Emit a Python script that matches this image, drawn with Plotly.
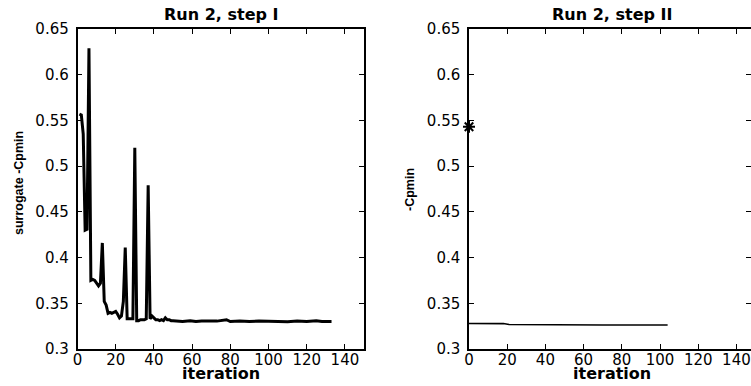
import plotly.graph_objects as go

# ---- data ----
iter_step1 = list(range(1, 51)) + [52, 55, 59, 62, 65, 70, 73, 78, 80, 85, 90, 95,
                                   100, 105, 110, 115, 120, 125, 128, 133]
surrogate_cpmin = [0.557, 0.556, 0.535, 0.430, 0.431, 0.629, 0.375, 0.376, 0.375, 0.372,
                   0.369, 0.372, 0.416, 0.352, 0.348, 0.339, 0.340, 0.339, 0.340, 0.341,
                   0.338, 0.334, 0.336, 0.352, 0.411, 0.333, 0.333, 0.333, 0.333, 0.520,
                   0.331, 0.331, 0.332, 0.332, 0.332, 0.333, 0.479, 0.333, 0.336, 0.334,
                   0.332, 0.332, 0.331, 0.332, 0.331, 0.334, 0.332, 0.332, 0.331, 0.331,
                   0.3305, 0.330, 0.331, 0.330, 0.3305, 0.330, 0.3305, 0.332, 0.330, 0.3305,
                   0.330, 0.3305, 0.330, 0.3303, 0.3298, 0.3305, 0.330, 0.3308, 0.330, 0.330]

iter_step2 = [0, 5, 10, 14, 18, 21, 25, 28, 32, 36, 40, 44, 48, 52, 56, 60, 65, 70,
              75, 80, 84, 88, 92, 96, 100, 104]
cpmin = [0.3279, 0.3280, 0.3281, 0.3282, 0.3278, 0.3268, 0.3267, 0.3270, 0.3266, 0.3268,
         0.3265, 0.3267, 0.3266, 0.3265, 0.3264, 0.3265, 0.3263, 0.3262, 0.3263, 0.3262,
         0.3264, 0.3262, 0.3263, 0.3262, 0.3262, 0.3262]
start_x = [0]
start_cpmin = [0.543]

x_ticks = [0, 20, 40, 60, 80, 100, 120, 140]
y_ticks = [0.3, 0.35, 0.4, 0.45, 0.5, 0.55, 0.6, 0.65]
y_ticktext = ["0.3", "0.35", "0.4", "0.45", "0.5", "0.55", "0.6", "0.65"]

titles = ["Run 2, step I", "Run 2, step II"]
ylabels = ["surrogate -Cpmin", "-Cpmin"]
xlabel = "iteration"

# ---- layout geometry ----
W, H = 751, 386
def fx(px):
    return px / W
def fy(py):
    return 1 - py / H

x1_dom = [fx(77.5), fx(364)]
x2_dom = [fx(469), 1.0]
y_dom = [fy(349), fy(29)]
px_per_unit = (364 - 77.5) / 150.0
x2_max = (W - 469) / px_per_unit

tick_font = dict(family="DejaVu Sans, Arial", size=15, color="black")
lab_font = dict(family="DejaVu Sans, Arial", size=16, color="black", weight="bold")
ylab_font = dict(family="Liberation Sans, Arial", size=12.5, color="black", weight="bold")

fig = go.Figure()

fig.add_trace(go.Scatter(x=iter_step1, y=surrogate_cpmin, mode="lines",
                         line=dict(color="black", width=3), xaxis="x", yaxis="y",
                         showlegend=False, hoverinfo="skip"))
fig.add_trace(go.Scatter(x=iter_step2, y=cpmin, mode="lines",
                         line=dict(color="black", width=1.6), xaxis="x2", yaxis="y2",
                         showlegend=False, hoverinfo="skip"))
fig.add_trace(go.Scatter(x=start_x, y=start_cpmin, mode="markers",
                         marker=dict(symbol="asterisk-open", size=10, color="black",
                                     line=dict(color="black", width=2)),
                         xaxis="x2", yaxis="y2", showlegend=False, hoverinfo="skip",
                         cliponaxis=False))
# dummy traces so the overlay axes (top / right of second panel) are drawn
fig.add_trace(go.Scatter(x=[None], y=[None], xaxis="x3", yaxis="y2",
                         showlegend=False, hoverinfo="skip"))
fig.add_trace(go.Scatter(x=[None], y=[None], xaxis="x2", yaxis="y3",
                         showlegend=False, hoverinfo="skip"))

common_x = dict(tickvals=x_ticks, ticktext=[str(v) for v in x_ticks], ticks="inside",
                ticklen=5, tickwidth=1, tickcolor="black", linecolor="black",
                linewidth=1.5, showline=True, showgrid=False, zeroline=False,
                tickfont=tick_font, automargin=False, ticklabelstandoff=-4)
common_y = dict(tickvals=y_ticks, ticktext=y_ticktext, ticks="inside", ticklen=5,
                tickwidth=1, tickcolor="black", linecolor="black", linewidth=1.5,
                showline=True, showgrid=False, zeroline=False, tickfont=tick_font,
                range=[0.3, 0.65], automargin=False, ticklabelstandoff=4)

fig.update_layout(
    template="none",
    width=W, height=H,
    margin=dict(l=0, r=0, t=0, b=0, pad=0),
    paper_bgcolor="white", plot_bgcolor="white",
    xaxis=dict(common_x, domain=x1_dom, range=[0, 150], mirror="ticks", anchor="y"),
    yaxis=dict(common_y, domain=y_dom, mirror="ticks", anchor="x"),
    xaxis2=dict(common_x, domain=x2_dom, range=[0, x2_max], mirror=False, anchor="y2"),
    yaxis2=dict(common_y, domain=y_dom, mirror=False, anchor="x2"),
    xaxis3=dict(common_x, domain=x2_dom, range=[0, x2_max], overlaying="x2",
                side="top", anchor="y2", showticklabels=False),
    yaxis3=dict(common_y, domain=y_dom, overlaying="y2", side="right", anchor="x2",
                showticklabels=False, showline=False),
)

annotations = []
centers = [(77.5 + 364) / 2, (469 + 755) / 2]
ylab_x = [19, 410]
ylab_y = [183, 190]
for i in range(2):
    annotations.append(dict(text=titles[i], x=fx(centers[i]), y=fy(14), xref="paper",
                            yref="paper", showarrow=False, font=lab_font,
                            xanchor="center", yanchor="middle"))
    annotations.append(dict(text=xlabel, x=fx(centers[i]), y=fy(373), xref="paper",
                            yref="paper", showarrow=False, font=lab_font,
                            xanchor="center", yanchor="middle"))
    annotations.append(dict(text=ylabels[i], x=fx(ylab_x[i]), y=fy(ylab_y[i]),
                            xref="paper", yref="paper", showarrow=False, font=ylab_font,
                            textangle=-90, xanchor="center", yanchor="middle"))
fig.update_layout(annotations=annotations)

fig.write_html(
    "out.html",
    config={"displayModeBar": False},
    post_script="document.body.style.margin='0';document.body.style.padding='0';"
                "document.body.style.overflow='hidden';",
)
